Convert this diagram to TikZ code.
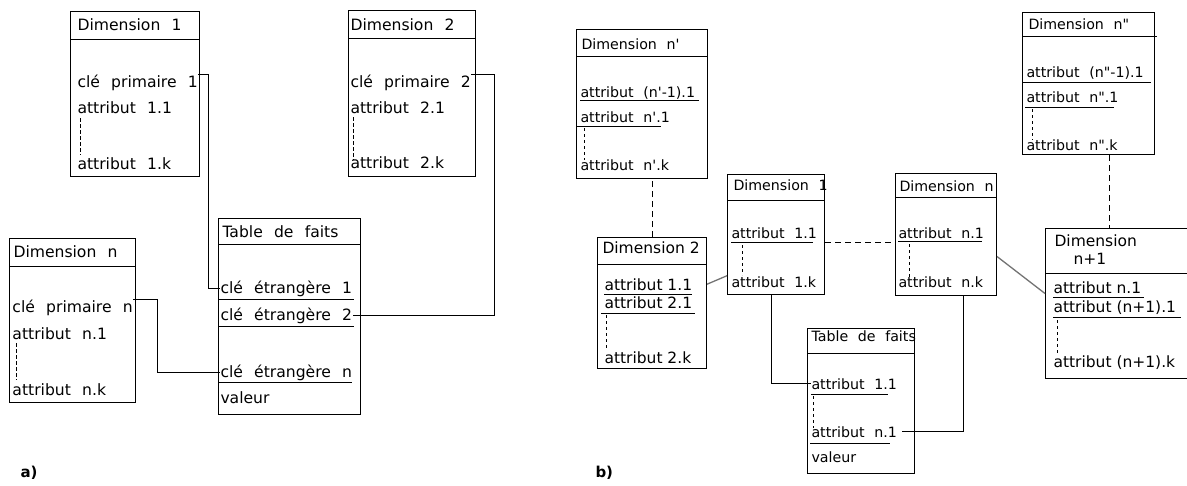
\documentclass[tikz,border=0pt]{standalone}
\usepackage{fontspec}
\newfontfamily\pixfont{DejaVu Sans}
\newfontfamily\verfont{DejaVu Sans}
\newcommand\pixa{\pixfont\fontsize{15.6pt}{17pt}\selectfont\spaceskip=.72em\relax}
\newcommand\pixb{\pixfont\fontsize{14.2pt}{16pt}\selectfont\spaceskip=.68em\relax}
\usetikzlibrary{calc,positioning}
\tikzset{
  % boxes: anchored at their top left corner, size given per box
  dimbox/.style={draw,anchor=north west,inner sep=0pt},
  % text rows: placed at their baseline
  rowa/.style={anchor=base west,inner sep=0pt,font=\pixa},
  rowb/.style={anchor=base west,inner sep=0pt,font=\pixb},
  rowv/.style={anchor=base west,inner sep=0pt,font=\verfont\fontsize{15.5pt}{17pt}\selectfont},
  tag/.style={anchor=base west,inner sep=0pt,font=\verfont\bfseries\fontsize{15pt}{17pt}\selectfont},
  % lines
  elide/.style={dash pattern=on 4pt off 2pt,line width=.8pt},
  elidedot/.style={dash pattern=on 3pt off 3pt,line width=.8pt},
  linkdash/.style={dash pattern=on 6pt off 4pt},
  linkgrey/.style={line width=1.3pt,black!55},
}
\begin{document}
\begin{tikzpicture}[x=1pt,y=-1pt,line width=1pt]
  \useasboundingbox (0,0) rectangle (1187,485);

  % a)
  \node[dimbox,minimum width=129pt,minimum height=165pt] (dA1) at (70,11) {};
  \draw ([yshift=-28pt]dA1.north west) -- ([yshift=-28pt]dA1.north east);
  \node[rowa] (a1h) at (77,30) {Dimension 1};
  \node[rowa] (a1p) at (77,87) {clé primaire 1};
  \node[rowa] (a1a) at (77,113) {attribut 1.1};
  \node[rowa] (a1k) at (77,169) {attribut 1.k};
  \draw[elide] (80,118) -- (80,155);

  \node[dimbox,minimum width=127pt,minimum height=166pt] (dA2) at (348,10) {};
  \draw ([yshift=-28pt]dA2.north west) -- ([yshift=-28pt]dA2.north east);
  \node[rowa] (a2h) at (350,30) {Dimension 2};
  \node[rowa] (a2p) at (350,87) {clé primaire 2};
  \node[rowa] (a2a) at (350,113) {attribut 2.1};
  \node[rowa] (a2k) at (350,168) {attribut 2.k};
  \draw[elide] (353,117) -- (353,160);

  \node[dimbox,minimum width=126pt,minimum height=164pt] (dAn) at (9,238) {};
  \draw ([yshift=-28pt]dAn.north west) -- ([yshift=-28pt]dAn.north east);
  \node[rowa] (anh) at (13,257) {Dimension n};
  \node[rowa] (anp) at (12,312) {clé primaire n};
  \node[rowa] (ana) at (12,339) {attribut n.1};
  \node[rowa] (ank) at (12,395) {attribut n.k};
  \draw[elide] (16,343) -- (16,380);

  \node[dimbox,minimum width=142pt,minimum height=196pt] (fA) at (218,218) {};
  \draw ([yshift=-26pt]fA.north west) -- ([yshift=-26pt]fA.north east);
  \node[rowa] (fAh) at (222,237) {Table de faits};
  \node[rowa] (fA1) at (220,293) {clé étrangère 1};
  \draw (218,299) -- (354,299);
  \node[rowa] (fA2) at (220,320) {clé étrangère 2};
  \draw (218,326) -- (354,326);
  \node[rowa] (fAn) at (220,377) {clé étrangère n};
  \draw (218,382) -- (352,382);
  \node[rowa] (fAv) at (220,403) {valeur};

  \coordinate (t1) at (208,0);
  \coordinate (t2) at (494,0);
  \coordinate (tn) at (157,0);
  \draw (a1p.north east) -- (a1p.north east -| t1) |- (fA1.west);
  \draw (a2p.north east) -- (a2p.north east -| t2) |- (fA2.east);
  \draw (anp.north east) -- (anp.north east -| tn) |- (fAn.west);

  \node[tag] (la) at (20,477) {a)};

  % b)
  \node[dimbox,minimum width=131pt,minimum height=149pt] (dBnp) at (576,29) {};
  \draw ([yshift=-27pt]dBnp.north west) -- ([yshift=-27pt]dBnp.north east);
  \node[rowb] (bph) at (581,49) {Dimension n\textquotesingle};
  \node[rowb] (bp0) at (580,97) {attribut (n\textquotesingle-1).1};
  \draw (580,100) -- (699,100);
  \node[rowb] (bp1) at (580,122) {attribut n\textquotesingle.1};
  \draw (576,126) -- (661,126);
  \node[rowb] (bpk) at (580,170) {attribut n\textquotesingle.k};
  \draw[elidedot] (584,128) -- (584,160);

  \node[dimbox,minimum width=109pt,minimum height=131pt] (dB2) at (597,237) {};
  \draw ([yshift=-27pt]dB2.north west) -- ([yshift=-27pt]dB2.north east);
  \node[rowv] (b2h) at (602,253) {Dimension 2};
  \node[rowv] (b2a) at (604,290) {attribut 1.1};
  \draw (604,294) -- (692,294);
  \node[rowv] (b2b) at (604,308) {attribut 2.1};
  \draw (601,313) -- (695,313);
  \node[rowv] (b2k) at (604,363) {attribut 2.k};
  \draw[elidedot] (606,315) -- (606,350);

  \node[dimbox,minimum width=97pt,minimum height=120pt] (dB1) at (727,174) {};
  \draw ([yshift=-26pt]dB1.north west) -- ([yshift=-26pt]dB1.north east);
  \node[rowb] (b1h) at (733,190) {Dimension 1};
  \node[rowb] (b1a) at (731,238) {attribut 1.1};
  \draw (731,242) -- (813,242);
  \node[rowb] (b1k) at (731,287) {attribut 1.k};
  \draw[elidedot] (742,245) -- (742,275);

  \node[dimbox,minimum width=101pt,minimum height=122pt] (dBn) at (895,173) {};
  \draw ([yshift=-24pt]dBn.north west) -- ([yshift=-24pt]dBn.north east);
  \node[rowb] (bnh) at (899,191) {Dimension n};
  \node[rowb] (bna) at (898,238) {attribut n.1};
  \draw (898,241) -- (982,241);
  \node[rowb] (bnk) at (898,287) {attribut n.k};
  \draw[elidedot] (909,244) -- (909,280);

  \node[dimbox,minimum width=132pt,minimum height=142pt] (dBnpp) at (1022,12) {};
  \draw ([yshift=-24pt]dBnpp.north west) -- ([xshift=2pt,yshift=-24pt]dBnpp.north east);
  \node[rowb] (bqh) at (1028,29) {Dimension n\textquotedbl};
  \node[rowb] (bq0) at (1026,77) {attribut (n\textquotedbl-1).1};
  \draw (1022,82) -- (1151,82);
  \node[rowb] (bq1) at (1026,102) {attribut n\textquotedbl.1};
  \draw (1025,107) -- (1114,107);
  \node[rowb] (bqk) at (1026,150) {attribut n\textquotedbl.k};
  \draw[elidedot] (1032,109) -- (1032,140);

  \node[dimbox,minimum width=150pt,minimum height=150pt] (dBn1) at (1045,228) {};
  \draw ([yshift=-45pt]dBn1.north west) -- ([yshift=-45pt]dBn1.north east);
  \node[rowv] (b3h) at (1054,246) {Dimension};
  \node[rowv] (b3i) at (1073,264) {n+1};
  \node[rowv] (b3a) at (1053,293) {attribut n.1};
  \draw (1053,297) -- (1144,297);
  \node[rowv] (b3b) at (1053,312) {attribut (n+1).1};
  \draw (1053,317) -- (1181,317);
  \node[rowv] (b3k) at (1053,367) {attribut (n+1).k};
  \draw[elidedot] (1057,320) -- (1057,355);

  \node[dimbox,minimum width=107pt,minimum height=145pt] (fB) at (807,328) {};
  \draw ([yshift=-25pt]fB.north west) -- ([yshift=-25pt]fB.north east);
  \node[rowb] (fBh) at (811,341) {Table de faits};
  \node[rowb] (fB1) at (811,389) {attribut 1.1};
  \draw (811,394) -- (888,394);
  \node[rowb] (fBn) at (811,437) {attribut n.1};
  \draw (810,443) -- (890,443);
  \node[rowb] (fBv) at (811,462) {valeur};
  \draw[elidedot] (813,396) -- (813,428);

  \coordinate (u1) at ([yshift=-4pt]b1a.base);
  \coordinate (s1) at (771,0);
  \coordinate (sn) at (963,0);
  \coordinate (sq) at (1109,0);
  \draw[linkdash] (dB2.north) -- (dB2.north |- dBnp.south);
  \draw[linkgrey] (dB2.east |- b2a) -- (dB1.west |- b1k.north);
  \draw[linkdash] (u1 -| dB1.east) -- (u1 -| dBn.west);
  \draw (dB1.south -| s1) |- (fB1.west);
  \draw (dBn.south -| sn) |- ([xshift=5pt]fBn.east);
  \draw[linkgrey] ([yshift=-22pt]dBn.east) -- ([yshift=10pt]dBn1.west);
  \draw[linkdash] (dBnpp.south -| sq) -- (dBn1.north -| sq);

  \node[tag] (lb) at (595,477) {b)};
\end{tikzpicture}
\end{document}
